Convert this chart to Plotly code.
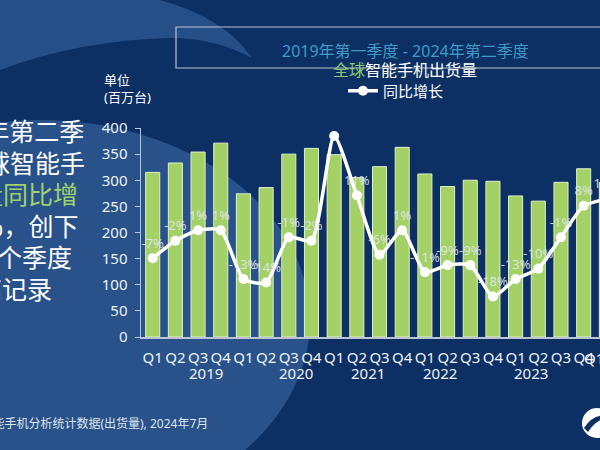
import plotly.graph_objects as go

# ---------------- data ----------------
quarters = ["Q1", "Q2", "Q3", "Q4"] * 5 + ["Q1", "Q2"]
years = ["2019", "2020", "2021", "2022", "2023", "2024"]
shipments = [315, 333, 354, 371, 274, 286, 350, 361, 349, 305, 326, 363,
             312, 288, 300, 298, 270, 260, 296, 322, 296, 288]
yoy = [-7, -2, 1, 1, -13, -14, -1, -2, 28, 11, -6, 1,
       -11, -9, -9, -18, -13, -10, -1, 8, 10, 12]
yoy_labels = [f"{v}%" for v in yoy]
series_name = "同比增长"
title_line1 = "2019年第一季度 - 2024年第二季度"
title_line2_green = "全球"
title_line2_white = "智能手机出货量"
unit_lines = ["单位", "(百万台)"]
side_text = [
    ("2024年第二季", False),
    ("度，全球智能手", False),
    ("机出货量同比增", True),
    ("长12%，创下", False),
    ("近三个季度", False),
    ("以来最高记录", False),
]
source_text = "数据来源：IDC全球智能手机分析统计数据(出货量), 2024年7月"

# ---------------- geometry ----------------
W, H = 600, 450
L, R, T, B = 141, 0, 128, 113
PW, PH = W - L - R, H - T - B
X0, X1 = -0.516, 19.72
idx = list(range(len(shipments)))


def fx(px):
    return (px - L) / PW


def fy(py):
    return 1 - (py - T) / PH


def dx(i):
    return (i - X0) / (X1 - X0)


AX = "#b9c5d2"
FONT = "Noto Sans, Noto Sans CJK SC, sans-serif"
GREEN = "#a3d165"

fig = go.Figure()
fig.add_trace(go.Bar(
    x=idx, y=shipments, width=0.62,
    marker=dict(color=GREEN, line=dict(color="#e0f1cb", width=1)),
    showlegend=False, hoverinfo="skip"))
fig.add_trace(go.Scatter(
    x=idx, y=yoy, yaxis="y2", name=series_name,
    mode="lines+markers+text",
    line=dict(color="white", width=3.5, shape="spline", smoothing=0.6),
    marker=dict(size=10, color="white"),
    text=yoy_labels, textposition="top center",
    textfont=dict(size=13, color="rgba(225,232,240,0.9)"),
    cliponaxis=True))

ann = []
for i, t in enumerate(unit_lines):
    ann.append(dict(x=fx(102), y=fy(80 + 17 * i), xref="paper", yref="paper",
                    text=t, showarrow=False, xanchor="left", yanchor="middle",
                    font=dict(size=13, color="white")))
ann.append(dict(x=fx(405), y=fy(38), xref="paper", yref="paper", text=title_line1,
                showarrow=False, font=dict(size=16, color="#3f9cc4")))
ann.append(dict(x=fx(405), y=fy(57), xref="paper", yref="paper",
                text=f"<span style='color:#8fca70'>{title_line2_green}</span>{title_line2_white}",
                showarrow=False, font=dict(size=16, color="white")))
for i, yr in enumerate(years):
    ann.append(dict(x=dx(4 * i + 1.5), y=fy(373), xref="paper", yref="paper", text=yr,
                    showarrow=False, yanchor="middle", font=dict(size=15, color="#eef2f6")))
for i in range(20, len(quarters)):
    ann.append(dict(x=dx(i), y=fy(358), xref="paper", yref="paper", text=quarters[i],
                    showarrow=False, yanchor="middle", font=dict(size=15, color="#eef2f6")))
rights = [86, 87, 80, 80, 74, 54]
for i, (t, green) in enumerate(side_text):
    ann.append(dict(x=fx(rights[i]), y=fy(131 + 31.5 * i), xref="paper", yref="paper",
                    text=t, showarrow=False, xanchor="right", yanchor="middle",
                    font=dict(size=25, color="#9fd36a" if green else "white")))
ann.append(dict(x=fx(210), y=fy(423), xref="paper", yref="paper", text=source_text,
                showarrow=False, xanchor="right", yanchor="middle",
                font=dict(size=12, color="#dfe5ec")))


def path(pts):
    s = ""
    for cmd, coords in pts:
        s += cmd + " " + " ".join(
            f"{fx(coords[k]):.4f},{fy(coords[k + 1]):.4f}" for k in range(0, len(coords), 2)) + " "
    return s + "Z"


shapes = [
    # large light disc on the left
    dict(type="circle", xref="paper", yref="paper", layer="below",
         x0=fx(-230), x1=fx(310), y0=fy(120), y1=fy(520),
         fillcolor="rgba(90,140,200,0.38)", line=dict(width=0)),
    # crescent at top-left
    dict(type="path", xref="paper", yref="paper", layer="below",
         path=path([("M", [0, 0]), ("L", [160, 0]), ("Q", [225, 18, 252, 58]),
                    ("Q", [215, 38, 170, 38]), ("Q", [80, 40, 0, 70])]),
         fillcolor="rgba(90,140,200,0.35)", line=dict(width=0)),
    # title box
    dict(type="rect", xref="paper", yref="paper", layer="above",
         x0=fx(176), x1=fx(610), y0=fy(27), y1=fy(68),
         line=dict(color="#b8c3d0", width=1.2), fillcolor="rgba(0,0,0,0)"),
    # logo
    dict(type="circle", xref="paper", yref="paper", layer="above",
         x0=fx(582), x1=fx(612), y0=fy(408), y1=fy(438),
         fillcolor="white", line=dict(width=0)),
    dict(type="path", xref="paper", yref="paper", layer="above",
         path=path([("M", [584, 428]), ("Q", [594, 412, 612, 416]), ("Q", [596, 419, 588, 432])]),
         fillcolor="#0c2f64", line=dict(width=0)),
]

fig.update_layout(
    width=W, height=H, autosize=False,
    margin=dict(l=L, r=R, t=T, b=B, pad=0),
    paper_bgcolor="#0c2f64", plot_bgcolor="rgba(0,0,0,0)",
    font=dict(family=FONT, color="white"),
    bargap=0.38,
    xaxis=dict(range=[X0, X1], tickmode="array", tickvals=idx, ticktext=quarters,
               showline=True, linecolor=AX, linewidth=1.5, ticks="", showgrid=False,
               zeroline=False, tickfont=dict(size=15, color="#eef2f6"),
               ticklabelstandoff=6, fixedrange=True),
    yaxis=dict(range=[0, 400], dtick=50, showline=True, linecolor=AX, linewidth=1.5,
               ticks="outside", ticklen=5, tickcolor=AX, showgrid=False, zeroline=False,
               tickfont=dict(size=15, color="#eef2f6"), ticklabelstandoff=4),
    yaxis2=dict(range=[-29.6, 30.3], overlaying="y", visible=False),
    showlegend=True,
    legend=dict(x=fx(343), y=fy(91), xanchor="left", yanchor="middle",
                font=dict(size=15, color="white"), bgcolor="rgba(0,0,0,0)",
                itemwidth=30),
    annotations=ann, shapes=shapes,
)

fig.write_html("out.html",
               config={"displayModeBar": False, "staticPlot": True},
               post_script="document.body.style.margin='0';document.body.style.overflow='hidden';")
